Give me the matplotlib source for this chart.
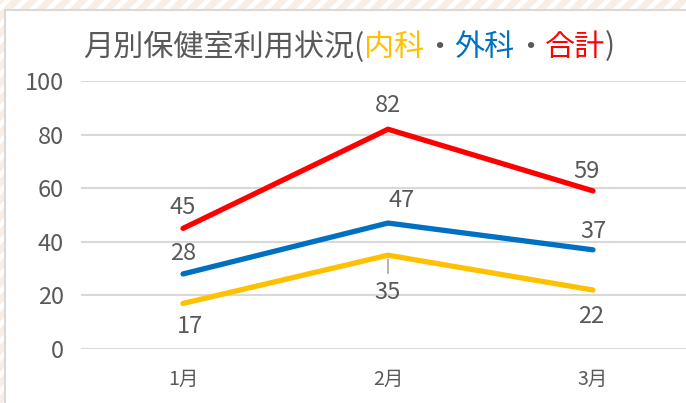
import matplotlib
matplotlib.use("Agg")
import matplotlib.pyplot as plt
from matplotlib.patches import Rectangle

plt.rcParams['font.family'] = ['Noto Sans CJK JP', 'DejaVu Sans']
plt.rcParams['hatch.linewidth'] = 5
plt.rcParams['hatch.color'] = '#F9EEE6'

# data
months = ['1月', '2月', '3月']
naika = [17, 35, 22]
geka = [28, 47, 37]
goukei = [45, 82, 59]
yticks = [0, 20, 40, 60, 80, 100]

GRAY = '#595959'
YELLOW = '#FFC000'
BLUE = '#0070C0'
RED = '#FF0000'

W, H = 686, 403
fig = plt.figure(figsize=(W / 100, H / 100), dpi=100)
fig.patch.set_facecolor('white')

# striped background + white card
bg = Rectangle((0, 0), 1, 1, transform=fig.transFigure, facecolor='white',
               hatch='//', edgecolor='#F9EEE6', linewidth=0, zorder=-10)
fig.patches.append(bg)
card = Rectangle((5 / W, -0.1), 1.2, 1 - 10 / H + 0.1, transform=fig.transFigure,
                 facecolor='white', edgecolor='#D9D9D9', linewidth=1.5, zorder=-9)
fig.patches.append(card)

ax = fig.add_axes([80.5 / W, (H - 349) / H, 615 / W, 268 / H])
ax.set_facecolor('none')
x = range(len(months))

ax.plot(x, naika, color=YELLOW, lw=3.8, solid_capstyle='round', zorder=3)
ax.plot(x, geka, color=BLUE, lw=3.8, solid_capstyle='round', zorder=3)
ax.plot(x, goukei, color=RED, lw=3.8, solid_capstyle='round', zorder=3)

ax.set_xlim(-0.5, 2.5)
ax.set_ylim(0, 100)
ax.set_yticks(yticks)
ax.set_xticks(list(x))
ax.set_xticklabels(months)
ax.grid(axis='y', color='#D9D9D9', lw=1.5)
ax.set_axisbelow(True)
for s in ax.spines.values():
    s.set_visible(False)
ax.tick_params(axis='y', length=0, pad=12, labelsize=17, labelcolor=GRAY)
ax.tick_params(axis='x', length=0, pad=14, labelsize=14, labelcolor=GRAY)

# data labels (offsets in pixels)
label_offsets = {
    'naika': [(7, -23), (0, -37), (-2, -26)],
    'geka': [(0, 20), (14, 23), (0, 18)],
    'goukei': [(0, 21), (0, 24), (-7, 19)],
}
for name, vals in [('naika', naika), ('geka', geka), ('goukei', goukei)]:
    for i, v in enumerate(vals):
        dx, dy = label_offsets[name][i]
        ax.annotate(str(v), (i, v), xytext=(dx, dy), textcoords='offset pixels',
                    ha='center', va='center', fontsize=17, color=GRAY, zorder=4)

# leader line for 35
ax.annotate('', (1, naika[1]), xytext=(0, -18), textcoords='offset pixels',
            arrowprops=dict(arrowstyle='-', color='#A6A6A6', lw=1.2, shrinkA=0, shrinkB=3))

# multicolour title
parts = [('月別保健室利用状況(', GRAY), ('内科', YELLOW), ('・', GRAY),
         ('外科', BLUE), ('・', GRAY), ('合計', RED), (')', GRAY)]
renderer = fig.canvas.get_renderer()
xpos = 83 / W
for txt, col in parts:
    t = fig.text(xpos, 1 - 47 / H, txt, color=col, fontsize=21.7, va='center', ha='left')
    bb = t.get_window_extent(renderer)
    xpos += bb.width / (W)

fig.savefig('out.png', dpi=100)
